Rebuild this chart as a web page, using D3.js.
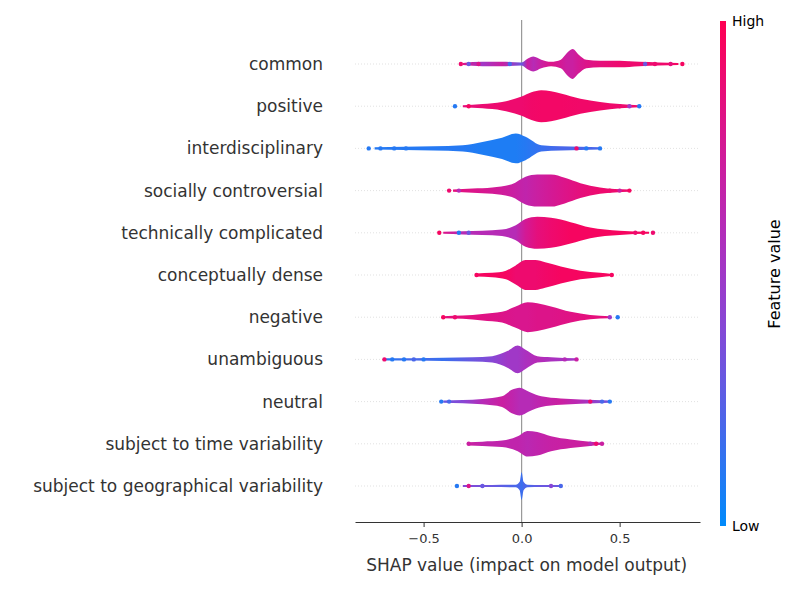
<!DOCTYPE html>
<html>
<head>
<meta charset="utf-8">
<script src="https://cdn.jsdelivr.net/npm/d3@7"></script>
<style>
  body { margin: 0; background: #fff; }
  text { font-family: "DejaVu Sans", sans-serif; }
</style>
</head>
<body>
<div class="chart"></div>
<script>
// признаки, сверху вниз
const features = [`common`, `positive`, `interdisciplinary`, `socially controversial`,
  `technically complicated`, `conceptually dense`, `negative`, `unambiguous`, `neutral`,
  `subject to time variability`, `subject to geographical variability`];

// SHAP-значения, где оценена плотность
const gridX = [
  [-0.3,-0.2,-0.1,0,0.03,0.06,0.1,0.15,0.2,0.23,0.26,0.29,0.33,0.4,0.5,0.6,0.7,0.8],
  [-0.3,-0.2,-0.1,0,0.05,0.1,0.15,0.2,0.3,0.4,0.5,0.6],
  [-0.75,-0.6,-0.45,-0.3,-0.2,-0.1,-0.03,0.02,0.1,0.2,0.3,0.4],
  [-0.35,-0.25,-0.15,-0.05,0.02,0.08,0.15,0.22,0.3,0.4,0.55],
  [-0.4,-0.3,-0.2,-0.1,-0.03,0.02,0.08,0.15,0.25,0.35,0.5,0.65],
  [-0.23,-0.15,-0.08,-0.03,0.02,0.07,0.12,0.2,0.3,0.4,0.46],
  [-0.4,-0.3,-0.2,-0.1,-0.03,0.03,0.08,0.15,0.25,0.35,0.45],
  [-0.7,-0.55,-0.4,-0.25,-0.15,-0.07,-0.02,0.02,0.08,0.15,0.28],
  [-0.4,-0.3,-0.2,-0.1,-0.05,-0.01,0.04,0.1,0.2,0.3,0.45],
  [-0.27,-0.2,-0.1,-0.02,0.03,0.08,0.15,0.25,0.35,0.41],
  [-0.3,-0.15,-0.03,-0.01,0,0.01,0.03,0.1,0.2]
];
// плотность (относительная)
const density = [
  [1,2,2,1.5,5,7,4,2,4,10,14,9,4,3,3,2,1.5,1],
  [1,2,4,9,13,15,14,12,7,4,2,1],
  [1,1.5,2,3,6,10,14,11,3,2,1.5,1],
  [1,2,3,6,13,15,15,12,7,3,1],
  [1,1.5,2,3,7,13,15,14,10,5,2,1],
  [1.5,2,4,9,14,14,12,8,4,2,1],
  [1,1.5,3,5,10,14,13,10,5,2,1],
  [1,1,1.5,2,3,8,13,9,3,2,1],
  [1,1.5,2.5,5,11,13,9,5,3,2,1],
  [1.5,2,3,7,12,11,7,4,2,1],
  [1,1,1.2,4,13,4,1.2,1,1]
];
// среднее значение признака (0 = low, 1 = high)
const featureValue = [
  [0.8,0.5,0.7,0.3,0.7,0.6,0.7,0.8,0.75,0.7,0.7,0.75,0.8,0.85,0.9,0.9,0.9,0.95],
  [0.85,0.88,0.9,0.9,0.92,0.93,0.93,0.93,0.92,0.92,0.9,0.9],
  [0.1,0.1,0.1,0.1,0.08,0.08,0.08,0.1,0.15,0.2,0.2,0.2],
  [0.85,0.8,0.75,0.7,0.65,0.7,0.75,0.8,0.85,0.9,0.9],
  [0.8,0.6,0.6,0.6,0.6,0.75,0.85,0.9,0.95,0.95,0.95,0.95],
  [0.95,0.95,0.95,0.9,0.9,0.9,0.92,0.95,0.95,0.95,0.95],
  [0.85,0.85,0.82,0.8,0.78,0.78,0.8,0.8,0.82,0.85,0.85],
  [0.1,0.2,0.15,0.3,0.4,0.5,0.5,0.55,0.6,0.55,0.5],
  [0.3,0.4,0.6,0.7,0.65,0.6,0.6,0.65,0.7,0.6,0.3],
  [0.7,0.65,0.65,0.65,0.62,0.65,0.68,0.7,0.7,0.7],
  [0.4,0.3,0.2,0.2,0.15,0.2,0.2,0.3,0.3]
];
// отдельные точки на хвостах: [shap, feature value]
const tailDots = [
  [[-0.31,0.9],[-0.27,0.3],[-0.22,0.8],[-0.06,0.2],[0.55,0.9],[0.63,0.3],[0.68,0.9],[0.76,0.85],[0.82,0.95]],
  [[-0.34,0.1],[-0.27,0.95],[0.5,0.9],[0.55,0.5],[0.6,0.1]],
  [[-0.78,0.1],[-0.72,0.1],[-0.65,0.1],[-0.59,0.1],[0.28,0.9],[0.33,0.1],[0.4,0.1]],
  [[-0.37,0.9],[-0.32,0.6],[0.45,0.9],[0.5,0.7],[0.55,0.95]],
  [[-0.42,0.95],[-0.32,0.1],[-0.27,0.3],[0.58,0.9],[0.62,0.95],[0.67,0.9]],
  [[-0.23,0.95],[0.46,0.95]],
  [[-0.4,0.95],[-0.34,0.9],[0.45,0.5],[0.49,0.1]],
  [[-0.7,0.9],[-0.66,0.1],[-0.6,0.1],[-0.55,0.2],[-0.5,0.1],[0.22,0.6],[0.28,0.7]],
  [[-0.41,0.1],[-0.37,0.2],[0.35,0.9],[0.41,0.2],[0.45,0.1]],
  [[-0.27,0.7],[0.35,0.6],[0.38,0.9],[0.41,0.7]],
  [[-0.33,0.1],[-0.27,0.8],[-0.2,0.3],[0.15,0.4],[0.2,0.2]]
];
const xTicks = [-0.5, 0, 0.5];

const W = 800, H = 590;
const margin = {top: 43, left: 355, right: 100, bottom: 68};
const color = d3.interpolateRgbBasis([`#008bfb`, `#7c4fe0`, `#c620b0`, `#ff0052`]);

const svg = d3.select(`.chart`).append(`svg`).attr(`width`, W).attr(`height`, H);

const x = d3.scaleLinear().domain([-0.85, 0.91]).range([margin.left, W - margin.right]);
const y = d3.scalePoint().domain(features).range([64, 486]);
const w = d3.scaleLinear().domain([0, 15]).range([0, 16]);

// пунктирные линии по строкам
svg.selectAll(`.row`).data(features).enter().append(`line`)
  .attr(`x1`, x(-0.85)).attr(`x2`, x(0.91))
  .attr(`y1`, d => y(d)).attr(`y2`, d => y(d))
  .attr(`stroke`, `#ccc`).attr(`stroke-width`, 0.6).attr(`stroke-dasharray`, `1,2`);

svg.append(`line`).attr(`x1`, x(0)).attr(`x2`, x(0)).attr(`y1`, 20).attr(`y2`, 522)
  .attr(`stroke`, `#999`).attr(`stroke-width`, 1.2);

const defs = svg.append(`defs`);

features.forEach((f, i) => {
  const pts = gridX[i].map((v, j) => ({v, d: density[i][j], c: featureValue[i][j]}));
  const g = defs.append(`linearGradient`).attr(`id`, `grad${i}`)
    .attr(`gradientUnits`, `userSpaceOnUse`)
    .attr(`x1`, x(pts[0].v)).attr(`x2`, x(pts[pts.length - 1].v)).attr(`y1`, 0).attr(`y2`, 0);
  const x0 = pts[0].v, span = pts[pts.length - 1].v - x0;
  pts.forEach(p => g.append(`stop`).attr(`offset`, (p.v - x0) / span).attr(`stop-color`, color(p.c)));

  const area = d3.area().curve(d3.curveMonotoneX)
    .x(p => x(p.v)).y0(p => y(f) - w(p.d)).y1(p => y(f) + w(p.d));
  svg.append(`path`).datum(pts).attr(`d`, area).attr(`fill`, `url(#grad${i})`);

  svg.selectAll(`.dot${i}`).data(tailDots[i]).enter().append(`circle`)
    .attr(`cx`, d => x(d[0])).attr(`cy`, y(f)).attr(`r`, 2.2)
    .attr(`fill`, d => color(d[1]));

  svg.append(`text`).attr(`x`, 323).attr(`y`, y(f)).attr(`dy`, `0.35em`)
    .attr(`text-anchor`, `end`).attr(`font-size`, 17).attr(`fill`, `#333`).text(f);
});

// ось x
const axis = svg.append(`g`).attr(`transform`, `translate(0,522)`)
  .call(d3.axisBottom(x).tickValues(xTicks).tickFormat(d => d3.format(`.1f`)(d).replace(`-`, `\u2212`)).tickSizeOuter(0));
axis.select(`.domain`).attr(`stroke`, `#333`);
axis.selectAll(`.tick line`).attr(`stroke`, `#333`).attr(`y2`, 5);
axis.selectAll(`text`).attr(`font-size`, 13).attr(`fill`, `#333`).attr(`dy`, `0.9em`);

svg.append(`text`).attr(`x`, x(0) + 5).attr(`y`, 571).attr(`text-anchor`, `middle`)
  .attr(`font-size`, 17).attr(`fill`, `#333`).text(`SHAP value (impact on model output)`);

// шкала цвета
const cb = defs.append(`linearGradient`).attr(`id`, `cbar`).attr(`x1`, 0).attr(`x2`, 0).attr(`y1`, 1).attr(`y2`, 0);
d3.range(0, 1.01, 0.1).forEach(t => cb.append(`stop`).attr(`offset`, t).attr(`stop-color`, color(t)));
svg.append(`rect`).attr(`x`, 720).attr(`y`, 21).attr(`width`, 6).attr(`height`, 505).attr(`fill`, `url(#cbar)`);
svg.append(`text`).attr(`x`, 732).attr(`y`, 26).attr(`font-size`, 14).attr(`fill`, `#000`).text(`High`);
svg.append(`text`).attr(`x`, 732).attr(`y`, 531).attr(`font-size`, 14).attr(`fill`, `#000`).text(`Low`);
svg.append(`text`).attr(`transform`, `translate(780,274) rotate(-90)`).attr(`text-anchor`, `middle`)
  .attr(`font-size`, 16).attr(`fill`, `#000`).text(`Feature value`);
</script>
</body>
</html>
